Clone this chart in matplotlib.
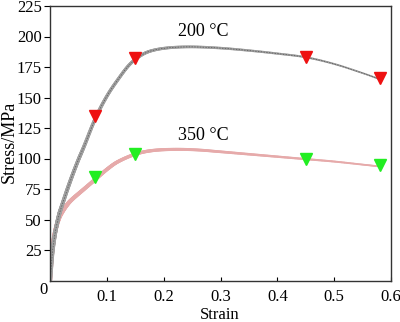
import numpy as np
import matplotlib
matplotlib.use("Agg")
import matplotlib.pyplot as plt
from matplotlib.collections import LineCollection

plt.rcParams['font.family'] = ['Liberation Serif', 'DejaVu Serif']

strain_200 = [0, 0.004, 0.008, 0.012, 0.016, 0.02, 0.03, 0.04, 0.05, 0.06, 0.08, 0.10, 0.12, 0.14, 0.16, 0.18, 0.21, 0.25, 0.30, 0.35, 0.40, 0.45, 0.50, 0.55, 0.58]
stress_200 = [0, 22, 36, 46, 54, 60, 74, 87, 99, 110, 133, 151, 165, 177, 184.5, 188.5, 190.8, 191.5, 190.5, 188.5, 186, 183, 177.5, 170, 165]

strain_350 = [0, 0.003, 0.006, 0.01, 0.015, 0.02, 0.03, 0.04, 0.06, 0.08, 0.10, 0.12, 0.15, 0.18, 0.22, 0.26, 0.30, 0.35, 0.40, 0.45, 0.50, 0.55, 0.58]
stress_350 = [0, 20, 32, 42, 50, 55, 62, 67, 75, 83, 91, 97.5, 103.5, 106.5, 107.5, 107, 105.5, 103.5, 101.5, 99.5, 97.5, 95, 93.5]

mark_strain = [0.08, 0.15, 0.45, 0.58]
mark_200 = [135, 182, 183, 166]
mark_350 = [85, 104, 100, 95]

labels = ["200 °C", "350 °C"]
xticks = [0.1, 0.2, 0.3, 0.4, 0.5, 0.6]
yticks = [25, 50, 75, 100, 125, 150, 175, 200, 225]

fig = plt.figure(figsize=(4.0, 3.22), dpi=100)
ax = fig.add_axes([50/400, 1-280.5/322, 341/400, 274.5/322])


def smooth(x, y, n=20):
    # Catmull-Rom through the given points
    P = np.column_stack([x, y]).astype(float)
    P = np.vstack([P[0] - (P[1] - P[0]), P, P[-1] + (P[-1] - P[-2])])
    out = []
    for i in range(1, len(P) - 2):
        p0, p1, p2, p3 = P[i-1], P[i], P[i+1], P[i+2]
        for t in np.linspace(0, 1, n, endpoint=False):
            t2, t3 = t*t, t*t*t
            out.append(0.5*((2*p1) + (-p0+p2)*t + (2*p0-5*p1+4*p2-p3)*t2 + (-p0+3*p1-3*p2+p3)*t3))
    out.append(P[-2])
    return np.array(out)


def band(x, y, color, w0, w1):
    S = smooth(x, y)
    xs = S[:, 0]
    pts = S.reshape(-1, 1, 2)
    segs = np.concatenate([pts[:-1], pts[1:]], axis=1)
    frac = xs[:-1] / 0.58
    widths = w0 + (w1 - w0) * np.clip(frac, 0, 1) ** 0.7
    lc = LineCollection(segs, linewidths=widths, colors=color, capstyle='round')
    ax.add_collection(lc)
    return S


band(strain_350, stress_350, '#e6aaaa', 3.2, 1.2)
S = band(strain_200, stress_200, '#a0a0a0', 3.0, 1.1)
ax.plot(S[:, 0], S[:, 1], color='#555555', lw=0.5, ls=(0, (2, 2)))

ax.plot(mark_strain, mark_200, 'v', color='#ee1111', ms=8, ls='none', zorder=5)
ax.plot(mark_strain, mark_350, 'v', color='#22ee22', ms=8, ls='none', zorder=5)

ax.text(0.27, 204, labels[0], fontsize=13, ha='center', va='center')
ax.text(0.27, 119, labels[1], fontsize=13, ha='center', va='center')

ax.set_xlim(0, 0.6)
ax.set_ylim(0, 225)
ax.set_xticks(xticks)
ax.set_xticklabels([f"{v:.1f}" for v in xticks])
ax.set_yticks(yticks)
ax.set_yticklabels([str(v) for v in yticks])
ax.tick_params(axis='x', direction='in', length=3, labelsize=12, pad=6)
ax.tick_params(axis='y', direction='out', length=4, labelsize=12, pad=2)
ax.text(-7/341, -9/274.5, "0", fontsize=12, ha='center', va='center', transform=ax.transAxes)

ax.set_xlabel("Strain", fontsize=12)
ax.xaxis.set_label_coords((220-50)/341, (280.5-315)/274.5)
ax.xaxis.label.set_va('center')
ax.set_ylabel("Stress/MPa", fontsize=13)
ax.yaxis.set_label_coords((9-50)/341, (280.5-141.5)/274.5)
ax.yaxis.label.set_va('center')
for s in ax.spines.values():
    s.set_linewidth(1.0)
    s.set_color('#333333')

fig.savefig("out.png", dpi=100)
